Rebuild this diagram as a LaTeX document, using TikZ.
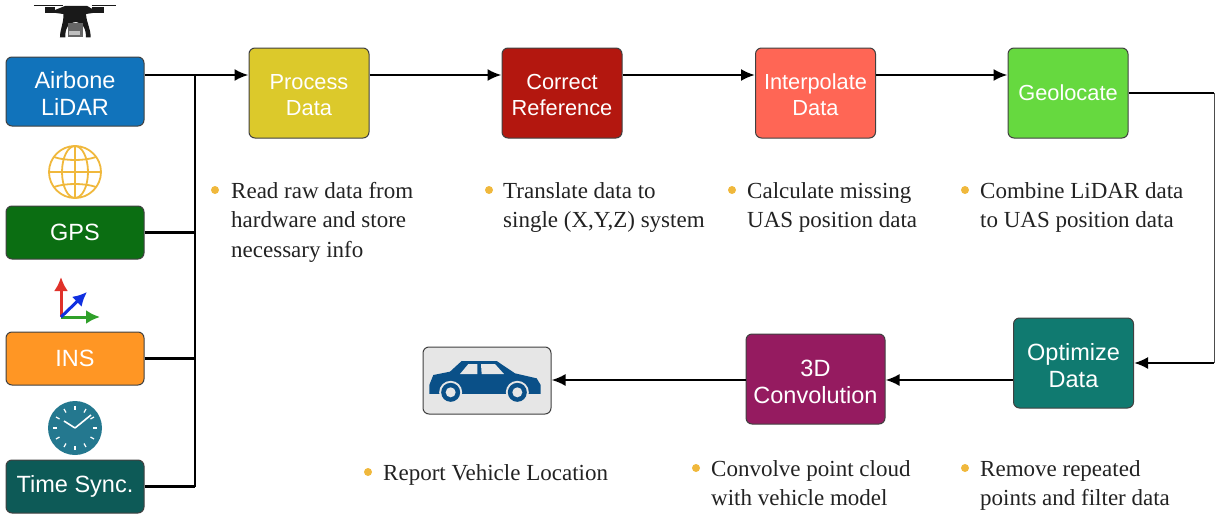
\documentclass[tikz,border=0pt]{standalone}
\usepackage{fontspec}
\setmainfont{Liberation Serif}
\newfontfamily\boxfont{Liberation Sans}
\usetikzlibrary{arrows.meta}
\definecolor{airblue}{HTML}{1173BB}
\definecolor{gpsgreen}{HTML}{0B6E12}
\definecolor{insorange}{HTML}{FF9624}
\definecolor{timeteal}{HTML}{0D5A57}
\definecolor{procyellow}{HTML}{DCC92B}
\definecolor{correctred}{HTML}{B3170F}
\definecolor{interpred}{HTML}{FF6655}
\definecolor{geogreen}{HTML}{66D93F}
\definecolor{optteal}{HTML}{107A70}
\definecolor{convpurple}{HTML}{951B60}
\definecolor{carblue}{HTML}{0A5088}
\definecolor{cargrey}{HTML}{E6E6E6}
\definecolor{dotgold}{HTML}{F0B83C}
\definecolor{clockblue}{HTML}{24788F}
\definecolor{textgrey}{HTML}{222222}
\definecolor{axred}{HTML}{E0322A}
\definecolor{axgreen}{HTML}{2FA02A}
\definecolor{axblue}{HTML}{1030E0}
\tikzset{
  box/.style={draw=black!75, line width=1pt, rounded corners=6pt, inner sep=0pt, align=center,
    text=white, font=\boxfont\fontsize{23.5}{27}\selectfont},
  inbox/.style={box, minimum width=138pt, minimum height=53pt},
  stepbox/.style={box, minimum width=120pt, minimum height=90pt},
  upperbox/.style={stepbox, font=\boxfont\fontsize{21.8}{26}\selectfont},
  note/.style={anchor=north west, inner sep=0pt, align=left, text=textgrey,
    font=\fontsize{23}{29.5}\selectfont},
  dot/.style={circle, fill=dotgold, inner sep=0pt, minimum size=8pt},
  wire/.style={line width=2.2pt, black},
  arrow/.style={wire, -{Latex[length=14pt,width=12pt]}},
  axis/.style={line width=3pt, -{Latex[length=14pt,width=14pt]}}
}
\begin{document}
\begin{tikzpicture}[x=1pt,y=-1pt]
  \useasboundingbox (0,0) rectangle (1215,514);
  \draw
    (75,91.5) node[inbox, minimum height=69pt, fill=airblue] (air) {\rule{0pt}{20pt}Airbone\\LiDAR}
    (75,232.5) node[inbox, fill=gpsgreen] (gps) {GPS}
    (75,358.5) node[inbox, fill=insorange] (ins) {INS}
    (75,486.5) node[inbox, fill=timeteal] (time) {Time Sync.}
    (309,93) node[upperbox, fill=procyellow] (proc) {\rule{0pt}{20pt}Process\\Data}
    (562,93) node[upperbox, fill=correctred] (corr) {\rule{0pt}{20pt}Correct\\Reference}
    (815.5,93) node[upperbox, fill=interpred] (interp) {\rule{0pt}{20pt}Interpolate\\Data}
    (1068,93) node[upperbox, fill=geogreen] (geo) {Geolocate}
    (1073.5,363) node[stepbox, fill=optteal] (opt) {\rule{0pt}{21.5pt}Optimize\\Data}
    (815.5,379) node[stepbox, minimum width=139pt, fill=convpurple] (conv) {\rule{0pt}{21.5pt}3D\\Convolution}
    (487,380.5) node[box, minimum width=128pt, minimum height=67pt, fill=cargrey] (car) {};
  \draw
    (215,190) node[dot] (d1) {}
    (489,190) node[dot] (d2) {}
    (732,190) node[dot] (d3) {}
    (965,190) node[dot] (d4) {}
    (696,468) node[dot] (d5) {}
    (965,468) node[dot] (d6) {}
    (368,472) node[dot] (d7) {};
  \draw
    (231,182) node[note] (n1) {Read raw data from\\hardware and store\\necessary info}
    (503,182) node[note] (n2) {Translate data to\\single (X,Y,Z) system}
    (747,182) node[note] (n3) {Calculate missing\\UAS position data}
    (980,182) node[note] (n4) {Combine LiDAR data\\to UAS position data}
    (711,460) node[note] (n5) {Convolve point cloud\\with vehicle model}
    (980,460) node[note] (n6) {Remove repeated\\points and filter data}
    (383,464) node[note] (n7) {Report Vehicle Location};
  \coordinate (bustop) at (195,75);
  \coordinate (busend) at (195,486.5);
  \coordinate (topline) at (0,75);
  \coordinate (lowline) at (0,380);
  \coordinate (corner1) at (1214,93);
  \coordinate (corner2) at (1214,363);
  \begin{scope}[wire]
    \draw (air.east |- topline) -- (bustop);
    \draw (bustop) -- (busend);
    \draw (gps.east) -- (gps.east -| bustop);
    \draw (ins.east) -- (ins.east -| bustop);
    \draw (time.east) -- (busend);
    \draw (geo.east) -- (corner1);
    \draw[line width=1pt, black!70] (corner1) -- (corner2);
  \end{scope}
  \begin{scope}[arrow]
    \draw (bustop) -- (proc.west |- topline);
    \draw (proc.east |- topline) -- (corr.west |- topline);
    \draw (corr.east |- topline) -- (interp.west |- topline);
    \draw (interp.east |- topline) -- (geo.west |- topline);
    \draw (corner2) -- (opt.east);
    \draw (opt.west |- lowline) -- (conv.east |- lowline);
    \draw (conv.west |- lowline) -- (car.east |- lowline);
  \end{scope}
  \begin{scope}[shift={(400,330)},x=.3333pt,y=-.3333pt]
    \fill[carblue] (88,192) -- (88,165) -- (100,135) -- (150,125) -- (185,93) -- (290,93)
      -- (345,130) -- (410,145) -- (422,165) -- (422,192) -- cycle;
    \fill[cargrey] (180,132) -- (205,102) -- (232,102) -- (232,132) -- cycle;
    \fill[cargrey] (243,102) -- (285,102) -- (312,132) -- (245,132) -- cycle;
    \fill[cargrey] (152,187) circle[radius=11.5pt];
    \fill[cargrey] (352,187) circle[radius=11.5pt];
    \fill[carblue] (152,187) circle[radius=9.5pt];
    \fill[carblue] (352,187) circle[radius=9.5pt];
    \fill[cargrey] (152,187) circle[radius=5pt];
    \fill[cargrey] (352,187) circle[radius=5pt];
  \end{scope}
  \begin{scope}[shift={(0,0)},x=.3333pt,y=-.3333pt,black!90]
    \draw[line width=.9pt] (102,17) -- (190,17);
    \draw[line width=.9pt] (275,17) -- (348,17);
    \fill (135,22) rectangle (165,40);
    \fill (275,22) rectangle (312,40);
    \fill (160,32) -- (195,18) -- (262,18) -- (285,32) -- (285,38) -- (258,42)
      .. controls (260,70) and (272,85) .. (272,112) -- (258,112)
      .. controls (258,85) and (248,68) .. (228,66)
      .. controls (205,68) and (195,85) .. (196,112) -- (180,112)
      .. controls (180,85) and (192,70) .. (190,42) -- (160,38) -- cycle;
    \fill[black!60] (205,68) rectangle (250,110);
    \fill[black!25] (208,92) rectangle (240,106);
  \end{scope}
  \begin{scope}[dotgold, line width=1.8pt]
    \draw (75,172) circle[radius=26];
    \draw (75,172) ellipse[x radius=13, y radius=26];
    \draw (75,146) -- (75,198);
    \draw (49,172) -- (101,172);
    \draw (54,157) .. controls (65,161) and (85,161) .. (96,157);
    \draw (54,187) .. controls (65,183) and (85,183) .. (96,187);
  \end{scope}
  \coordinate (axo) at (61,317);
  \draw[axis, axred] (axo) -- (61,277);
  \draw[axis, axgreen] (axo) -- (100,317);
  \draw[axis, axblue] (axo) -- (87,292);
  \fill[clockblue] (75,428) circle[radius=27];
  \begin{scope}[white, line width=1.2pt]
    \draw[line width=1.6pt] (75,428) -- (91,415);
    \draw[line width=1.6pt] (75,428) -- (64,421);
    \draw (75,406) -- (75,410);
    \draw (75,446) -- (75,450);
    \draw (53,428) -- (57,428);
    \draw (93,428) -- (97,428);
    \draw (64,409) -- (66,412.5);
    \draw (84,443.5) -- (86,447);
    \draw (56,417) -- (59.5,419);
    \draw (90.5,437) -- (94,439);
    \draw (56,439) -- (59.5,437);
    \draw (90.5,419) -- (94,417);
    \draw (64,447) -- (66,443.5);
    \draw (84,412.5) -- (86,409);
  \end{scope}
\end{tikzpicture}
\end{document}
